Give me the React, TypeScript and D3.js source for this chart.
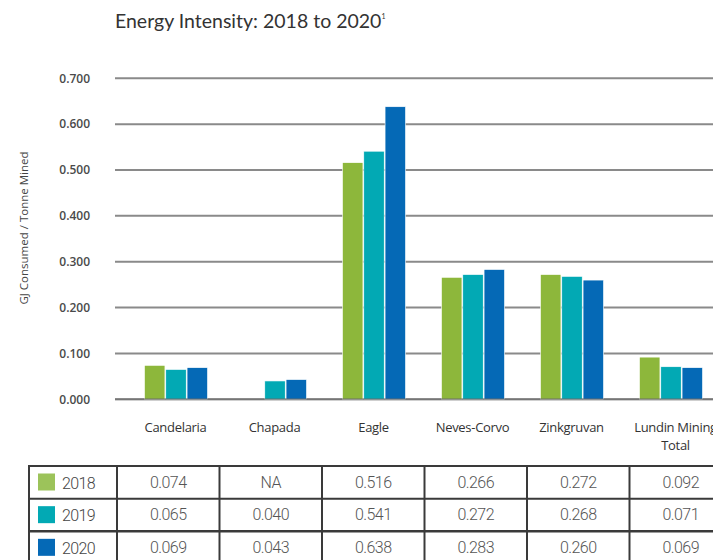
import React from "react";
import * as d3 from "d3";

const categories = ["Candelaria", "Chapada", "Eagle", "Neves-Corvo", "Zinkgruvan", "Lundin Mining Total"];
const categoryLines = [["Candelaria"], ["Chapada"], ["Eagle"], ["Neves-Corvo"], ["Zinkgruvan"], ["Lundin Mining", "Total"]];
const years = ["2018", "2019", "2020"];
const values2018: (number | null)[] = [0.074, null, 0.516, 0.266, 0.272, 0.092];
const values2019: (number | null)[] = [0.065, 0.04, 0.541, 0.272, 0.268, 0.071];
const values2020: (number | null)[] = [0.069, 0.043, 0.638, 0.283, 0.26, 0.069];
const yTicks = [0, 0.1, 0.2, 0.3, 0.4, 0.5, 0.6, 0.7];
const colors = ["#8db73b", "#02a9b4", "#0569b6"];
const swatchColors = ["#9cc35a", "#02a9b4", "#0569b6"];

const series = [values2018, values2019, values2020];

export default function App() {
  const W = 713, H = 560;
  const y = d3.scaleLinear().domain([0, 0.7]).range([399.3, 78.3]);
  const x = d3.scaleBand<string>().domain(categories).range([126, 720]).padding(0);
  const xi = d3.scaleBand<string>().domain(years).range([18.5, 81.5]).paddingInner(0.04);
  const tx = d3.scaleBand<string>().domain(categories).range([117, 732]);
  const ty = d3.scaleBand<string>().domain(years).range([466, 564]);
  const fmt = (v: number | null) => (v == null ? "NA" : d3.format(".3f")(v));
  const font = "'Open Sans', 'Noto Sans', sans-serif";
  const tableFont = "'Roboto', sans-serif";

  return (
    <svg width={W} height={H} style={{ position: "fixed", left: 0, top: 0, background: "#fff" }}>
      <text x={115} y={28} fontFamily="'Lato', 'Noto Sans', sans-serif" fontSize={19.5} fill="#333">
        Energy Intensity: 2018 to 2020<tspan fontSize={7} dy={-9}>1</tspan>
      </text>
      {yTicks.map((t) => (
        <line key={t} x1={115} x2={W} y1={y(t)} y2={y(t)} stroke="#8a8a8a" strokeWidth={2} />
      ))}
      {yTicks.map((t) => (
        <text key={"l" + t} x={90} y={y(t)} dy="0.35em" textAnchor="end" fontFamily={font} fontSize={12} fontWeight={600} fill="#4a4a4a">
          {d3.format(".3f")(t)}
        </text>
      ))}
      <text transform={`translate(28,228) rotate(-90)`} textAnchor="middle" fontFamily={font} fontSize={11.5} fontWeight={500} fill="#444">
        GJ Consumed / Tonne Mined
      </text>
      {categories.map((c, ci) => (
        <g key={c} transform={`translate(${x(c)},0)`}>
          {series.map((s, si) => {
            const v = s[ci];
            if (v == null) return null;
            return (
              <rect key={si} x={xi(years[si])} width={xi.bandwidth()} y={y(v)} height={y(0) - y(v)} fill={colors[si]} stroke="#fff" strokeWidth={0.6} />
            );
          })}
        </g>
      ))}
      <line x1={115} x2={W} y1={y(0)} y2={y(0)} stroke="#6a6a6a" strokeWidth={2} opacity={0.6} />
      {categories.map((c, ci) => {
        const cx = (x(c) as number) + x.bandwidth() / 2 + (ci === 5 ? 5 : 0);
        return categoryLines[ci].map((ln, li) => (
          <text key={"c" + c + li} x={cx} y={432 + li * 17.5} textAnchor="middle" fontFamily={font} fontSize={13} fontWeight={500} letterSpacing={-0.3} fill="#333">
            {ln}
          </text>
        ));
      })}
      <g>
        {years.map((yr, ri) => (
          <g key={yr}>
            <rect x={38} y={(ty(yr) as number) + 7.5} width={17} height={17} fill={swatchColors[ri]} />
            <text x={62} y={(ty(yr) as number) + 22.5} fontFamily={tableFont} fontSize={16} fontWeight={300} letterSpacing={-0.6} fill="#444">{yr}</text>
            {categories.map((c, ci) => (
              <text key={c} x={(tx(c) as number) + tx.bandwidth() / 2} y={(ty(yr) as number) + 21.5} textAnchor="middle" fontFamily={tableFont} fontSize={16} fontWeight={300} letterSpacing={-0.6} fill="#555">
                {fmt(series[ri][ci])}
              </text>
            ))}
          </g>
        ))}
        {[...years.map((yr) => ty(yr) as number), 564].map((yy, i) => (
          <line key={"h" + i} x1={28} x2={W} y1={yy} y2={yy} stroke="#3a3a3a" strokeWidth={i === 2 ? 2.5 : 2} />
        ))}
        {[29, ...categories.map((c) => tx(c) as number), 732].map((xx, i) => (
          <line key={"v" + i} x1={xx} x2={xx} y1={465} y2={H} stroke="#3a3a3a" strokeWidth={2} />
        ))}
      </g>
    </svg>
  );
}
